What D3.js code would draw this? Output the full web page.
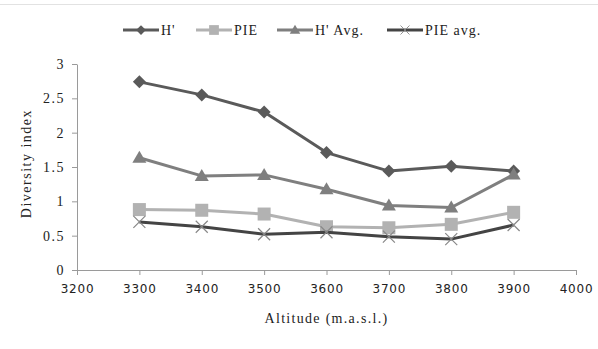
<!DOCTYPE html>
<html>
<head>
<meta charset="utf-8">
<script src="https://cdn.jsdelivr.net/npm/d3@7"></script>
<style>
  body { margin: 0; background: #fff; }
  svg { display: block; font-family: "Liberation Serif", "DejaVu Serif", serif; }
</style>
</head>
<body>
<div id="chart"></div>
<script>
const altitudes = [3300, 3400, 3500, 3600, 3700, 3800, 3900]
const hShannon = [2.74, 2.55, 2.30, 1.71, 1.44, 1.51, 1.44]
const pie = [0.88, 0.87, 0.815, 0.63, 0.615, 0.665, 0.84]
const hAvg = [1.635, 1.37, 1.385, 1.175, 0.94, 0.91, 1.39]
const pieAvg = [0.70, 0.63, 0.52, 0.55, 0.485, 0.45, 0.655]
const xTicks = [3200, 3300, 3400, 3500, 3600, 3700, 3800, 3900, 4000]
const yTicks = [0, 0.5, 1, 1.5, 2, 2.5, 3]

const series = [
  { name: "H'", values: hShannon, color: '#5a5a5a', marker: 'diamond' },
  { name: 'PIE', values: pie, color: '#b2b2b2', marker: 'square' },
  { name: "H' Avg.", values: hAvg, color: '#7f7f7f', marker: 'triangle' },
  { name: 'PIE avg.', values: pieAvg, color: '#444444', marker: 'cross' }
]

const W = 598, H = 349
const margin = { left: 77, right: 22, top: 64, bottom: 79 }
const SERIF = '"Liberation Serif", serif'
const SANS = '"DejaVu Sans", sans-serif'

const svg = d3.select('#chart').append('svg')
  .attr('width', W).attr('height', H)

// faint frame line at top
svg.append('line')
  .attr('x1', 0).attr('x2', W).attr('y1', 4.5).attr('y2', 4.5)
  .attr('stroke', '#e2e2e2').attr('stroke-width', 1)

const x = d3.scaleLinear().domain([3200, 4000]).range([margin.left, W - margin.right])
const y = d3.scaleLinear().domain([0, 3]).range([H - margin.bottom, margin.top])

const xAxis = svg.append('g')
  .attr('transform', `translate(0,${y(0)})`)
  .call(d3.axisBottom(x).tickValues(xTicks).tickSize(5).tickSizeOuter(0).tickPadding(9).tickFormat(d3.format('d')))
  .attr('font-family', SANS).attr('font-size', 12)
const yAxis = svg.append('g')
  .attr('transform', `translate(${x(3200)},0)`)
  .call(d3.axisLeft(y).tickValues(yTicks).tickSize(5).tickSizeOuter(0).tickPadding(7).tickFormat(d => d))
  .attr('font-family', SERIF).attr('font-size', 14)

;[xAxis, yAxis].forEach(g => {
  g.select('.domain').attr('stroke', '#9a9a9a')
  g.selectAll('.tick line').attr('stroke', '#9a9a9a')
  g.selectAll('.tick text').attr('fill', '#222')
})
xAxis.selectAll('.tick text').attr('letter-spacing', 0.8)
yAxis.selectAll('.tick text').attr('letter-spacing', 1.5)

svg.append('text')
  .attr('x', (x(3200) + x(4000)) / 2).attr('y', 323)
  .attr('text-anchor', 'middle').attr('font-size', 14).attr('fill', '#222')
  .attr('letter-spacing', 1.3)
  .text('Altitude  (m.a.s.l.)')

svg.append('text')
  .attr('transform', `translate(31,${y(1.55)}) rotate(-90)`)
  .attr('text-anchor', 'middle').attr('font-size', 14).attr('fill', '#222')
  .attr('letter-spacing', 1.5)
  .text('Diversity index')

function drawMarker (g, type, color) {
  if (type === 'diamond') {
    g.append('path').attr('d', 'M0,-6.5L6.5,0L0,6.5L-6.5,0Z').attr('fill', color)
  } else if (type === 'square') {
    g.append('rect').attr('x', -6.5).attr('y', -6.5).attr('width', 13).attr('height', 13).attr('fill', color)
  } else if (type === 'triangle') {
    g.append('path').attr('d', 'M0,-7L7,5L-7,5Z').attr('fill', color)
  } else {
    g.append('path').attr('d', 'M-6,-6L6,6M-6,6L6,-6')
      .attr('stroke', '#888').attr('stroke-width', 1.2).attr('fill', 'none')
  }
}

const line = d3.line().x((d, i) => x(altitudes[i])).y(d => y(d))

const plot = svg.append('g')
series.forEach(s => {
  plot.append('path')
    .datum(s.values)
    .attr('d', line)
    .attr('fill', 'none')
    .attr('stroke', s.color)
    .attr('stroke-width', 3)
    .attr('stroke-linejoin', 'round')
  s.values.forEach((v, i) => {
    const m = plot.append('g').attr('transform', `translate(${x(altitudes[i])},${y(v)})`)
    drawMarker(m, s.marker, s.color)
  })
})

// legend
const legendX = [123, 196, 277, 387]
const legend = svg.append('g').attr('transform', 'translate(0,30)')
series.forEach((s, i) => {
  const g = legend.append('g').attr('transform', `translate(${legendX[i]},0)`)
  g.append('line').attr('x1', 0).attr('x2', 36).attr('y1', 0).attr('y2', 0)
    .attr('stroke', s.color).attr('stroke-width', 3)
  const m = g.append('g').attr('transform', 'translate(18,0) scale(0.75)')
  drawMarker(m, s.marker, s.color)
  g.append('text').attr('x', 38).attr('y', 5)
    .attr('font-size', 14).attr('fill', '#222').attr('letter-spacing', 1)
    .text(s.name)
})
</script>
</body>
</html>
